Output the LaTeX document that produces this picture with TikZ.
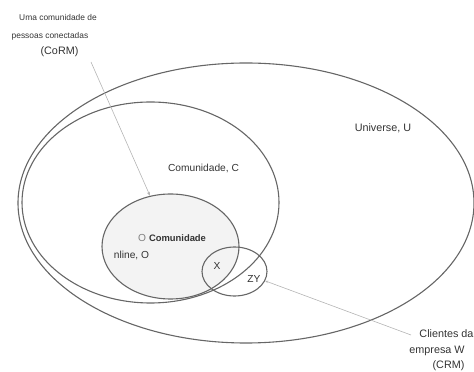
\documentclass[tikz,border=0pt]{standalone}
\usepackage{fontspec}
\setmainfont{Liberation Sans}
\usetikzlibrary{shapes.geometric,arrows.meta}
\definecolor{ln}{HTML}{666666}
\definecolor{txt}{HTML}{333333}
\definecolor{arr}{HTML}{B4B4B4}
\definecolor{ofill}{HTML}{F3F3F3}
\begin{document}
\begin{tikzpicture}[x=1pt,y=1pt,
  set/.style={ellipse, draw=ln, line width=1.1pt, inner sep=0pt},
  lbl/.style={inner sep=0pt, text=txt, font=\fontsize{10.2}{12}\selectfont},
  small/.style={inner sep=0pt, text=txt, font=\fontsize{8.4}{10}\selectfont},
  big/.style={inner sep=0pt, text=txt, font=\fontsize{10.8}{13}\selectfont},
  pointer/.style={draw=arr, line width=0.6pt, -{Stealth[length=4pt,width=3pt]}}]
\useasboundingbox (0,0) rectangle (474,372);
% online community (filled)
\node[set, fill=ofill, minimum width=137pt, minimum height=105pt] (O) at (170.5,125.5) {};
\node[set, minimum width=456pt, minimum height=280pt] (U) at (246,169) {};
\node[set, minimum width=257pt, minimum height=201pt] (C) at (150.5,169.5) {};
\node[set, minimum width=65pt, minimum height=49pt] (W) at (234.5,100.5) {};
% labels
\node[big] (lu) at (383,244) {Universe, U};
\node[lbl] (lc) at (203.5,204) {Comunidade, C};
\node[lbl, text=gray] (lo1) at (142,134) {O};
\node[inner sep=0pt, text=txt, font=\bfseries\fontsize{9.4}{11}\selectfont] (lo2) at (177.5,134) {Comunidade};
\node[lbl] (lo3) at (131.5,117) {nline, O};
\node[lbl] (lx) at (217,106) {X};
\node[lbl] (lzy) at (254,93) {ZY};
% top-left annotation
\node[small] (t1) at (58,354) {Uma comunidade de};
\node[small] (t2) at (50,336) {pessoas conectadas};
\node[big] (t3) at (59.5,320) {(CoRM)};
% bottom-right annotation
\node[big] (b1) at (446.5,38) {Clientes da};
\node[big] (b2) at (437,21) {empresa W};
\node[big] (b3) at (448.5,6) {(CRM)};
% pointers
\coordinate (p1) at (91,310);
\coordinate (p2) at (411,37);
\draw[pointer] (p1) -- (O.112);
\draw[draw=arr, line width=0.6pt, -{Stealth[length=3pt,width=2.5pt]}] (p2) -- (W.-17);
\end{tikzpicture}
\end{document}
